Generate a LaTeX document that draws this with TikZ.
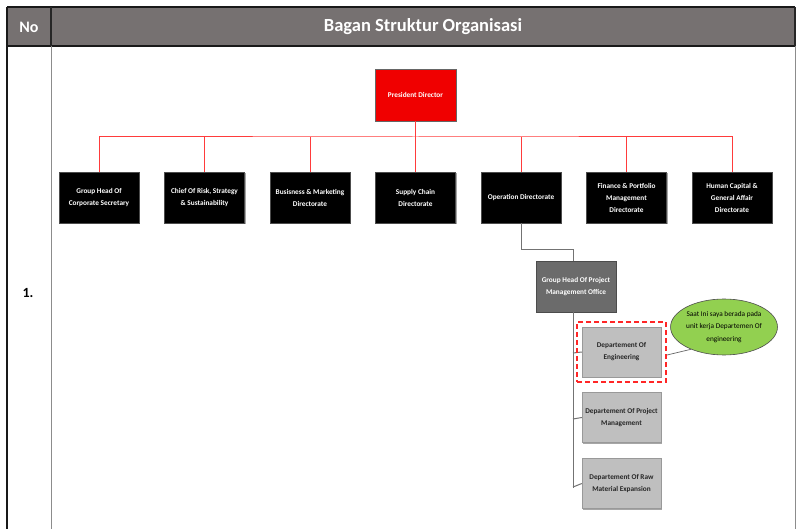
\documentclass[tikz,border=0pt]{standalone}
\usepackage{fontspec}
\setmainfont{Carlito}
\usetikzlibrary{shapes.geometric}
\definecolor{hdr}{HTML}{767171}
\definecolor{pres}{HTML}{F00000}
\definecolor{pmo}{HTML}{6B6B6B}
\definecolor{dept}{HTML}{BFBFBF}
\definecolor{callg}{HTML}{92D050}
\definecolor{redline}{HTML}{FF3B3B}
\tikzset{
  base/.style={minimum width=80pt,minimum height=51pt,align=center,font=\fontsize{7.3}{12}\selectfont\bfseries,inner sep=1pt,
    preaction={fill=black!35,transform canvas={xshift=1.2pt,yshift=-1.2pt}}},
  dirbox/.style={base,fill=black,draw=black!70,text=white},
  presbox/.style={base,fill=pres,draw=black!60,text=white,minimum width=81pt,minimum height=52pt},
  pmobox/.style={base,fill=pmo,draw=black!70,text=white},
  deptbox/.style={base,fill=dept,draw=dept!80!black,text=black!85,minimum width=79pt,minimum height=50pt},
  rl/.style={draw=redline,line width=1pt},
  gl/.style={draw=black!55,line width=1pt},
}
\begin{document}
\begin{tikzpicture}[x=1pt,y=-1pt]
\useasboundingbox (0,0) rectangle (797,529);
\fill[white] (0,0) rectangle (797,529);
% table
\fill[hdr] (7,7) rectangle (795,46);
\draw[black!90,line width=1.6pt] (7,7) -- (795,7);
\draw[black!90,line width=1.6pt] (7,46) -- (795,46);
\draw[black!90,line width=1.8pt] (7,7) -- (7,529);
\draw[black!85,line width=1.2pt] (51,7) -- (51,46);
\draw[black!45,line width=1pt] (51,46) -- (51,529);
\draw[black!85,line width=1.2pt] (795,7) -- (795,46);
\draw[black!45,line width=1pt] (795,46) -- (795,529);
\node[text=white,font=\fontsize{16}{18}\selectfont\bfseries] (hno) at (29,27) {No};
\node[text=white,font=\fontsize{18.5}{20}\selectfont\bfseries] (htitle) at (423,27) {Bagan Struktur Organisasi};
\node[text=black,font=\fontsize{14}{16}\selectfont\bfseries] (num) at (28,293) {1.};
% president
\node[presbox] (pd) at (415.5,95) {President Director};
% directorates
\node[dirbox] (d1) at (99,197.5) {Group Head Of\\Corporate Secretary};
\node[dirbox] (d2) at (204.5,197.5) {Chief Of Risk, Strategy\\\& Sustainability};
\node[dirbox] (d3) at (310,197.5) {Busisness \& Marketing\\Directorate};
\node[dirbox] (d4) at (415.5,197.5) {Supply Chain\\Directorate};
\node[dirbox] (d5) at (521,197.5) {Operation Directorate};
\node[dirbox] (d6) at (626.5,197.5) {Finance \& Portfolio\\Management\\Directorate};
\node[dirbox] (d7) at (732,197.5) {Human Capital \&\\General Affair\\Directorate};
\coordinate (bus) at (415.5,137);
\draw[rl] (pd.south) -- (bus);
\draw[rl] (d1.north) |- (bus) -| (d7.north);
\foreach \n in {d2,d3,d4,d5,d6} \draw[rl] (\n.north) -- (\n.north |- bus);
% PMO
\node[pmobox] (pmo) at (576,286.5) {Group Head Of Project\\Management Office};
\coordinate (spine) at (573,312);
\draw[gl] (d5.south) -- ++(0,26) -| (pmo.north -| spine);
% departments
\node[deptbox] (de) at (621.5,352) {Departement Of\\Engineering};
\node[deptbox] (dp) at (621.5,417.5) {Departement Of Project\\Management};
\node[deptbox] (dr) at (621.5,483.5) {Departement Of Raw\\Material Expansion};
\coordinate (spend) at (573,488);
\draw[gl] (spine) -- (spend);
\draw[gl] (573,353) -- (de.west);
\draw[gl] (573,419) -- (dp.west);
\draw[gl] (573,487) -- (dr.west);
% highlight
\node[draw=red!85,line width=1.3pt,dash pattern=on 5pt off 3pt,minimum width=89pt,minimum height=60pt,inner sep=0pt] (hl) at (621.5,352) {};
% callout
\node[ellipse,fill=callg,draw=black!70,line width=0.6pt,minimum width=90pt,minimum height=56pt,inner sep=0pt,align=center,
  font=\fontsize{7.3}{12.5}\selectfont,text=black] (call) at (724,327) {Saat Ini saya berada pada\\unit kerja Departemen Of\\engineering};
\coordinate (tip) at (667,355);
\draw[black!60,line width=0.7pt] (tip) -- (call.214);
\end{tikzpicture}
\end{document}
